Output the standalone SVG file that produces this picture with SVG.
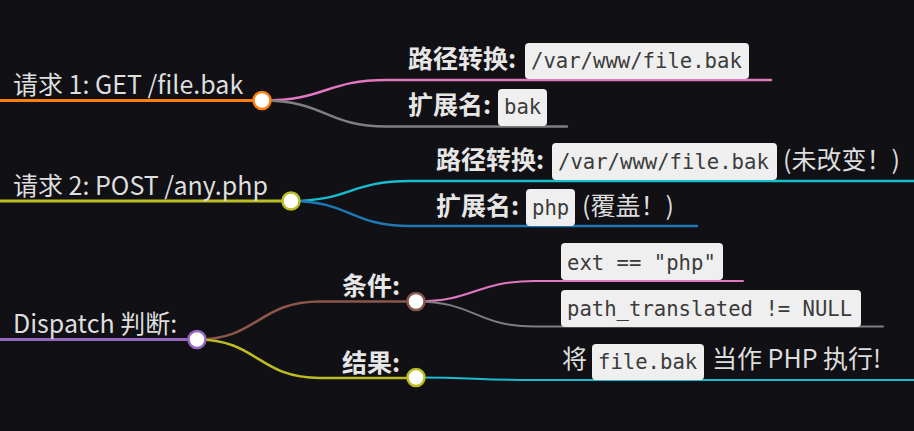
<svg xmlns="http://www.w3.org/2000/svg" width="914" height="431" viewBox="0 0 914 431">
<style>
.t{font-family:"Noto Sans CJK SC","Noto Sans",sans-serif;font-size:25px;fill:#dedede}
.b{font-family:"Noto Sans CJK SC","Noto Sans",sans-serif;font-size:25px;font-weight:bold;fill:#e6e6e6}
.c{font-family:"DejaVu Sans Mono","Liberation Mono",monospace;font-size:20.6px;fill:#3b3b3b}
.box{fill:#efefef}
.l{fill:none;stroke-linecap:round}
.n{fill:#ffffff;stroke-width:2.5}
</style>
<rect width="914" height="431" fill="#111014"/>
<g id="connectors">
<path class="l" d="M0,100.5H262" stroke="#ff7f0e" stroke-width="3"/>
<path class="l" d="M262,100.5C326,100.5 326,80 386,80H771" stroke="#e377c2" stroke-width="2.5"/>
<path class="l" d="M262,100.5C326,100.5 326,126.5 386,126.5H567" stroke="#7f7f7f" stroke-width="2.5"/>
<path class="l" d="M0,201H291" stroke="#bcbd22" stroke-width="3"/>
<path class="l" d="M291,201C350,201 350,181 410,181H914" stroke="#17becf" stroke-width="2.5"/>
<path class="l" d="M291,201C350,201 350,226 410,226H697" stroke="#1f77b4" stroke-width="2.5"/>
<path class="l" d="M0,339.5H197" stroke="#9467bd" stroke-width="3"/>
<path class="l" d="M197,339.5C258,339.5 258,301.5 320,301.5H416" stroke="#8c564b" stroke-width="2.5"/>
<path class="l" d="M197,339.5C258,339.5 258,378 320,378H416" stroke="#bcbd22" stroke-width="2.5"/>
<path class="l" d="M416,301.5C475,301.5 475,281 535,281H743" stroke="#e377c2" stroke-width="2"/>
<path class="l" d="M416,301.5C475,301.5 475,326.5 535,326.5H883" stroke="#7f7f7f" stroke-width="2"/>
<path class="l" d="M416,377.5C475,377.5 475,380 535,380H914" stroke="#17becf" stroke-width="2"/>
</g>
<g id="req1">
<text class="t" x="13" y="94">请求 1: GET /file.bak</text>
<circle class="n" cx="262" cy="100.5" r="8.5" stroke="#ff7f0e"/>
</g>
<g id="req1-path">
<text class="b" x="408" y="68">路径转换:</text>
<rect class="box" x="525" y="43" width="224" height="36" rx="4"/>
<text class="c" x="531" y="68">/var/www/file.bak</text>
</g>
<g id="req1-ext">
<text class="b" x="408" y="114">扩展名:</text>
<rect class="box" x="498" y="89" width="49" height="37" rx="4"/>
<text class="c" x="504" y="114">bak</text>
</g>
<g id="req2">
<text class="t" x="13" y="195">请求 2: POST /any.php</text>
<circle class="n" cx="291" cy="201" r="8.5" stroke="#bcbd22"/>
</g>
<g id="req2-path">
<text class="b" x="436" y="169">路径转换:</text>
<rect class="box" x="552" y="143" width="225" height="37" rx="4"/>
<text class="c" x="558" y="169">/var/www/file.bak</text>
<text class="t" x="783" y="169">(未改变！)</text>
</g>
<g id="req2-ext">
<text class="b" x="436" y="215">扩展名:</text>
<rect class="box" x="526" y="189" width="49" height="37" rx="4"/>
<text class="c" x="532" y="215">php</text>
<text class="t" x="582" y="215">(覆盖！)</text>
</g>
<g id="dispatch">
<text class="t" x="13" y="333">Dispatch 判断:</text>
<circle class="n" cx="197" cy="339.5" r="8.5" stroke="#9467bd"/>
</g>
<g id="cond">
<text class="b" x="342" y="295">条件:</text>
<circle class="n" cx="416" cy="301.5" r="8.5" stroke="#8c564b"/>
</g>
<g id="cond-ext">
<rect class="box" x="561" y="243" width="162" height="37" rx="4"/>
<text class="c" x="567" y="270">ext == "php"</text>
</g>
<g id="cond-path">
<rect class="box" x="561" y="290" width="300" height="37" rx="4"/>
<text class="c" x="567" y="316">path_translated != NULL</text>
</g>
<g id="result">
<text class="b" x="342" y="372">结果:</text>
<circle class="n" cx="416" cy="377.5" r="8.5" stroke="#bcbd22"/>
</g>
<g id="result-text">
<text class="t" x="562" y="368">将</text>
<rect class="box" x="592" y="344" width="112" height="36" rx="4"/>
<text class="c" x="598" y="369">file.bak</text>
<text class="t" x="712" y="368">当作 PHP 执行!</text>
</g>
</svg>
